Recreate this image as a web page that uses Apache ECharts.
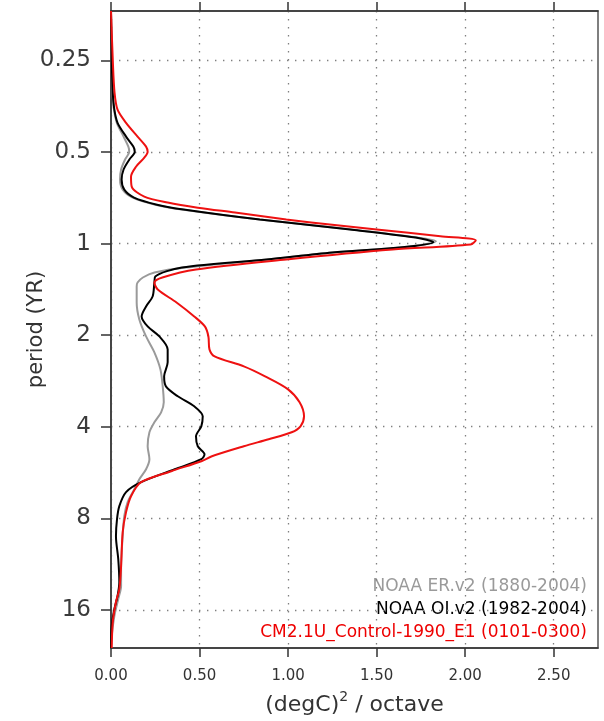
<!DOCTYPE html>
<html>
<head>
<meta charset="utf-8">
<script src="https://cdn.jsdelivr.net/npm/echarts@6/dist/echarts.min.js"></script>
<style>
html,body{margin:0;padding:0;background:#fff;}
#chart{width:604px;height:721px;}
</style>
</head>
<body>
<div id="chart"></div>
<script>
// ---- data (period in years, power in (degC)^2/octave) ----
const erPeriod = [0.172,0.249,0.319,0.363,0.401,0.445,0.480,0.499,0.530,0.571,0.616,0.665,0.706,0.745,0.773,0.834,0.899,0.956,0.983,1.031,1.070,1.128,1.199,1.245,1.293,1.343,1.384,1.562,1.776,2.020,2.280,2.592,2.948,3.326,3.588,3.870,4.173,4.639,5.117,5.520,5.953,6.420,7.083,7.872,9.160,11.49,13.36,14.74,16.77,19.51,21.36];
const erPower  = [0.0,0.004,0.009,0.017,0.033,0.071,0.098,0.103,0.079,0.057,0.051,0.066,0.122,0.25,0.40,0.84,1.36,1.73,1.835,1.63,1.25,0.88,0.42,0.245,0.18,0.15,0.145,0.145,0.16,0.198,0.245,0.279,0.292,0.298,0.283,0.245,0.217,0.207,0.217,0.198,0.16,0.132,0.094,0.075,0.066,0.057,0.057,0.041,0.019,0.004,0.0];

const oiPeriod = [0.172,0.249,0.319,0.363,0.401,0.445,0.480,0.499,0.530,0.571,0.616,0.665,0.706,0.745,0.773,0.834,0.899,0.956,0.990,1.031,1.070,1.128,1.199,1.283,1.343,1.493,1.610,1.736,1.873,2.020,2.228,2.458,2.733,2.948,3.178,3.429,3.699,3.989,4.302,4.639,4.928,5.117,5.520,6.090,6.567,7.300,8.055,9.160,10.90,12.97,14.41,15.90,18.09,21.36];
const oiPower  = [0.0,0.004,0.010,0.019,0.037,0.085,0.126,0.134,0.103,0.071,0.060,0.075,0.13,0.26,0.41,0.84,1.35,1.72,1.82,1.63,1.25,0.88,0.40,0.25,0.245,0.235,0.198,0.173,0.207,0.273,0.32,0.32,0.30,0.31,0.377,0.47,0.518,0.51,0.48,0.49,0.528,0.51,0.36,0.17,0.085,0.047,0.034,0.028,0.041,0.047,0.037,0.019,0.004,0.0];

const cmPeriod = [0.172,0.249,0.319,0.363,0.401,0.445,0.480,0.499,0.522,0.559,0.603,0.650,0.701,0.733,0.762,0.791,0.834,0.853,0.899,0.946,0.975,1.008,1.046,1.128,1.217,1.293,1.343,1.416,1.562,1.736,1.873,2.020,2.228,2.349,2.534,2.733,3.015,3.326,3.699,3.989,4.173,4.399,4.639,5.003,5.196,5.603,6.090,6.770,7.638,8.888,11.49,13.67,15.08,17.54,21.36];
const cmPower  = [0.0,0.01,0.02,0.037,0.085,0.15,0.198,0.207,0.188,0.141,0.113,0.117,0.188,0.32,0.49,0.70,0.99,1.13,1.50,1.86,2.06,2.03,1.59,0.99,0.48,0.29,0.245,0.264,0.37,0.47,0.53,0.55,0.556,0.585,0.75,0.87,1.0,1.065,1.09,1.07,1.02,0.89,0.75,0.57,0.51,0.34,0.17,0.113,0.085,0.066,0.057,0.047,0.028,0.010,0.004];

const yTickPeriods = [0.25, 0.5, 1, 2, 4, 8, 16];
const yTickLabels = ['0.25', '0.5', '1', '2', '4', '8', '16'];
const xTicks = [0, 0.5, 1, 1.5, 2, 2.5];
const periodRange = [0.172, 21.36];
const powerRange = [0, 2.75];

const legendLabels = ['NOAA ER.v2 (1880-2004)', 'NOAA OI.v2 (1982-2004)', 'CM2.1U_Control-1990_E1 (0101-0300)'];

// ---- build ----
const toPts = (per, pow) => per.map((p, i) => [pow[i], Math.log2(p)]);
const yTickVals = yTickPeriods.map(p => Math.log2(p));

const chart = echarts.init(document.getElementById('chart'));
const dotted = { color: '#808080', width: 1.3, type: [1.4, 6.6] };
const frameColor = '#333';

const option = {
  animation: false,
  backgroundColor: '#fff',
  grid: { left: 111, right: 6, top: 11, bottom: 72, show: true, borderColor: '#555', borderWidth: 1.5, backgroundColor: 'transparent' },
  xAxis: [{
    type: 'value', position: 'bottom', min: powerRange[0], max: powerRange[1],
    axisLine: { show: true, onZero: false, lineStyle: { color: frameColor, width: 1.5 } },
    axisTick: { show: true, inside: false, length: 9, customValues: xTicks, lineStyle: { color: frameColor, width: 1.5 } },
    axisLabel: { customValues: xTicks, formatter: v => v.toFixed(2), fontFamily: 'DejaVu Sans', fontSize: 15, color: '#333', margin: 21 },
    splitLine: { show: true, lineStyle: dotted },
    name: '{a|(degC)}{s|2}{a| / octave}', nameLocation: 'middle', nameGap: 42, nameMoveOverlap: false,
    nameTextStyle: { rich: {
      a: { fontFamily: 'DejaVu Sans', fontSize: 22, color: '#333', verticalAlign: 'bottom' },
      s: { fontFamily: 'DejaVu Sans', fontSize: 14, color: '#333', verticalAlign: 'top', padding: [0, 0, 12, 0] }
    } }
  }, {
    type: 'value', position: 'top', min: powerRange[0], max: powerRange[1],
    axisLine: { show: true, onZero: false, lineStyle: { color: frameColor, width: 1.5 } },
    axisTick: { show: true, inside: false, length: 9, customValues: xTicks, lineStyle: { color: frameColor, width: 1.5 } },
    axisLabel: { show: false },
    splitLine: { show: false }
  }],
  yAxis: {
    type: 'value', inverse: true, min: Math.log2(periodRange[0]), max: Math.log2(periodRange[1]),
    axisLine: { show: true, onZero: false, lineStyle: { color: frameColor, width: 1.5 } },
    axisTick: { show: true, inside: false, length: 10, customValues: yTickVals, lineStyle: { color: frameColor, width: 1.5 } },
    axisLabel: { customValues: yTickVals, formatter: v => { const i = yTickVals.findIndex(t => Math.abs(t - v) < 1e-6); return i >= 0 ? yTickLabels[i] : ''; },
      fontFamily: 'DejaVu Sans', fontSize: 23, color: '#3a3a3a', margin: 20 },
    splitLine: { show: true, lineStyle: dotted },
    name: 'period (YR)', nameLocation: 'middle', nameGap: 64, nameMoveOverlap: false,
    nameTextStyle: { fontFamily: 'DejaVu Sans', fontSize: 21, color: '#333' }
  },
  series: [
    { name: legendLabels[0], type: 'line', data: toPts(erPeriod, erPower), showSymbol: false, smooth: 0.3, lineStyle: { color: '#9a9a9a', width: 2 }, z: 2 },
    { name: legendLabels[1], type: 'line', data: toPts(oiPeriod, oiPower), showSymbol: false, smooth: 0.3, lineStyle: { color: '#000', width: 2 }, z: 3 },
    { name: legendLabels[2], type: 'line', data: toPts(cmPeriod, cmPower), showSymbol: false, smooth: 0.3, lineStyle: { color: '#ee1111', width: 2 }, z: 4 }
  ],
  graphic: [
    { type: 'text', right: 17, top: 578, style: { text: legendLabels[0], fill: '#9a9a9a', font: '17px "DejaVu Sans"' } },
    { type: 'text', right: 17, top: 601, style: { text: legendLabels[1], fill: '#000', font: '17px "DejaVu Sans"' } },
    { type: 'text', right: 17, top: 624, style: { text: legendLabels[2], fill: '#e00', font: '17px "DejaVu Sans"' } }
  ]
};
chart.setOption(option);
</script>
</body>
</html>
